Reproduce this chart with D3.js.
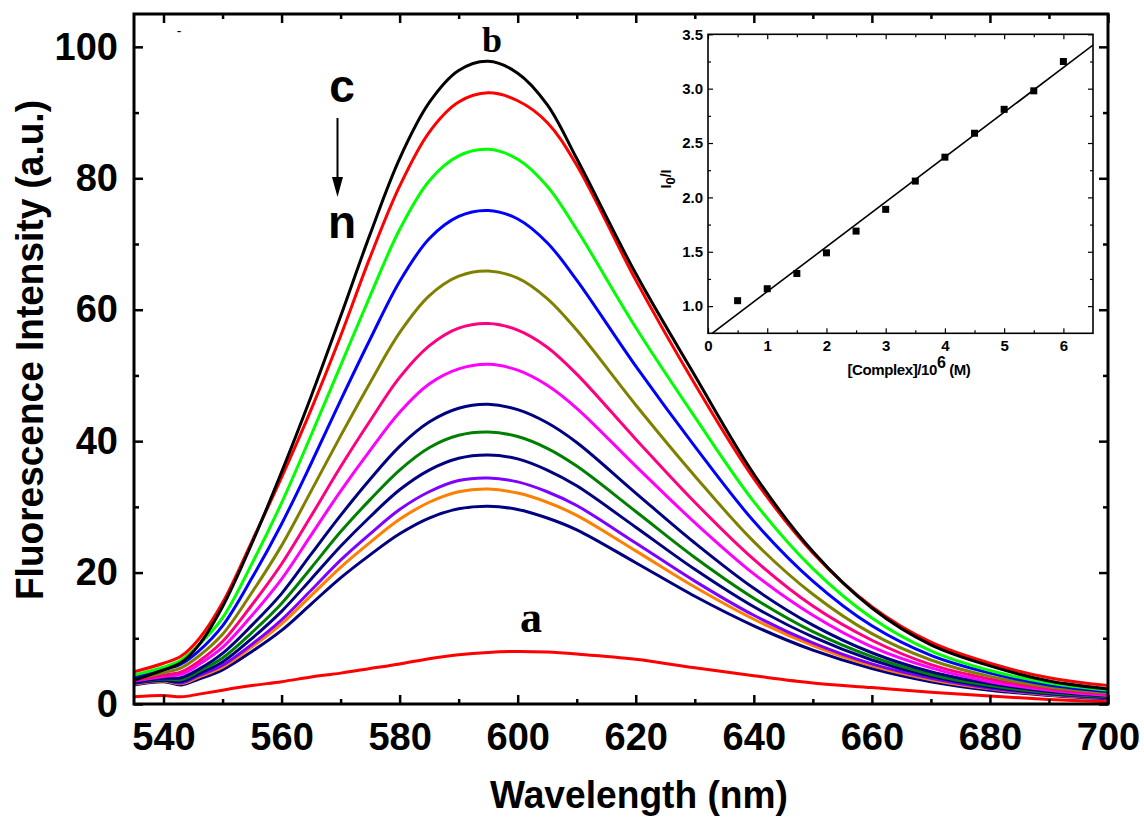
<!DOCTYPE html>
<html>
<head>
<meta charset="utf-8">
<script src="https://cdn.jsdelivr.net/npm/d3@7"></script>
<style>
  body { margin: 0; background: #fff; }
  svg { display: block; }
</style>
</head>
<body>
<svg id="chart" width="1144" height="819"></svg>
<script>
// ---- Emission spectra (fluorescence intensity, a.u.) ----
const wavelengths = [535,540,543,546,550,555,560,565,570,575,580,585,590,595,600,605,610,620,630,640,650,660,670,680,690,700];

const specA = [1.1,1.3,1.1,1.5,2.1,2.8,3.4,4.1,4.7,5.4,6.1,6.9,7.5,7.85,8.0,7.9,7.6,6.8,5.5,4.3,3.2,2.5,1.8,1.2,0.7,0.35];
const specB = [3.6,5.2,6.3,9.0,14.8,24.5,35.3,46.8,59.0,71.5,83.0,91.5,96.4,97.8,96.0,91.2,83.0,65.5,50.0,35.0,23.2,14.6,9.0,5.8,3.5,2.3];
const specC = [4.9,6.2,7.3,9.9,15.4,24.8,34.5,44.8,56.0,68.0,78.8,87.0,91.6,93.0,91.8,88.5,82.0,64.5,48.7,34.3,23.0,14.8,9.4,6.2,4.0,2.8];
const specD = [4.4,5.6,6.7,9.0,13.1,21.4,30.6,40.9,51.5,62.1,72.2,79.6,83.4,84.4,82.9,78.8,72.2,57.3,43.7,30.8,20.6,13.1,8.1,5.1,3.2,2.1];
const specE = [4.1,5.2,6.1,8.1,11.9,19.2,27.4,36.6,46.2,55.5,64.3,70.8,74.2,75.1,73.8,70.2,64.5,51.4,39.2,27.8,18.7,11.9,7.4,4.7,2.9,1.9];
const specF = [3.8,4.8,5.5,7.3,10.6,17.0,24.1,32.4,40.8,48.9,56.5,62.1,65.1,65.9,64.8,61.7,56.9,45.5,34.7,24.7,16.7,10.7,6.7,4.2,2.6,1.7];
const specG = [3.6,4.4,4.9,6.5,9.5,15.1,21.3,28.6,36.1,43.1,49.7,54.5,57.2,57.9,56.9,54.3,50.2,40.3,30.7,22.0,14.9,9.7,6.0,3.8,2.3,1.5];
const specH = [3.5,4.2,4.5,6.0,8.6,13.5,19.0,25.7,32.4,38.6,44.4,48.7,51.0,51.7,50.8,48.5,45.0,36.2,27.6,19.8,13.5,8.7,5.5,3.4,2.1,1.3];
const specI = [3.3,3.9,4.0,5.3,7.7,12.0,16.8,22.8,28.7,34.2,39.2,42.9,45.0,45.6,44.8,42.8,39.8,32.1,24.5,17.6,12.0,7.8,4.9,3.1,1.9,1.2];
const specJ = [3.3,3.8,3.7,5.0,7.0,10.9,15.3,20.7,26.2,31.1,35.6,39.0,40.9,41.4,40.7,38.9,36.2,29.3,22.3,16.1,11.0,7.2,4.5,2.8,1.7,1.1];
const specK = [3.2,3.6,3.4,4.6,6.4,10.0,14.1,19.0,24.0,28.5,32.6,35.6,37.4,37.9,37.3,35.6,33.2,26.9,20.5,14.8,10.2,6.7,4.2,2.6,1.6,1.0];
const specL = [3.1,3.6,3.2,4.3,5.9,9.1,12.8,17.3,21.9,25.9,29.6,32.3,34.0,34.4,33.8,32.3,30.2,24.5,18.7,13.5,9.3,6.1,3.9,2.4,1.5,0.95];
const specM = [3.0,3.5,3.1,4.1,5.6,8.7,12.2,16.5,20.8,24.6,28.1,30.7,32.3,32.7,32.1,30.7,28.7,23.3,17.8,12.9,8.9,5.8,3.7,2.3,1.4,0.9];
const specN = [2.9,3.4,2.9,3.8,5.2,8.0,11.2,15.2,19.2,22.7,25.9,28.3,29.7,30.1,29.6,28.3,26.5,21.5,16.4,11.9,8.2,5.4,3.4,2.1,1.3,0.8];

// drawing order: lowest quenched spectrum first, free spectrum b last
const seriesNames  = ["a","n","m","l","k","j","i","h","g","f","e","d","c","b"];
const seriesValues = [specA,specN,specM,specL,specK,specJ,specI,specH,specG,specF,specE,specD,specC,specB];
const seriesColors = ["#ff0000","#000080","#ff8000","#8000ff","#000080","#008000","#000080","#ff00ff","#ff0080","#808000","#0000ff","#00ff00","#ff0000","#000000"];

const xTicks = [540,560,580,600,620,640,660,680,700];
const xMinorTicks = [550,570,590,610,630,650,670,690];
const yTicks = [0,20,40,60,80,100];
const yMinorTicks = [10,30,50,70,90];

// ---- Stern–Volmer inset ----
const conc  = [0.5,1,1.5,2,2.5,3,3.5,4,4.5,5,5.5,6];
const ratio = [1.05,1.16,1.30,1.49,1.69,1.89,2.15,2.37,2.59,2.81,2.98,3.25];
const insetXTicks = [0,1,2,3,4,5,6];
const insetXMinor = [0.5,1.5,2.5,3.5,4.5,5.5];
const insetYTicks = [1.0,1.5,2.0,2.5,3.0,3.5];
const insetYMinor = [1.25,1.75,2.25,2.75,3.25];

const svg = d3.select("#chart");
const SANS = "'Liberation Sans', Arial, sans-serif";
const SERIF = "'Liberation Serif', 'Times New Roman', serif";

// ---- main plot ----
const P = { left: 134, right: 1108, top: 14, bottom: 704 };
const x = d3.scaleLinear().domain([535, 700]).range([P.left, P.right]);
const y = d3.scaleLinear().domain([0, 105]).range([P.bottom, P.top]);

svg.append("clipPath").attr("id", "plotClip")
  .append("rect").attr("x", P.left).attr("y", P.top)
  .attr("width", P.right - P.left).attr("height", P.bottom - P.top);

const line = d3.line()
  .x((d, i) => x(wavelengths[i]))
  .y(d => y(d))
  .curve(d3.curveCatmullRom.alpha(0.5));

const curves = svg.append("g").attr("clip-path", "url(#plotClip)");
seriesValues.forEach((vals, k) => {
  curves.append("path")
    .attr("class", "spectrum spectrum-" + seriesNames[k])
    .attr("d", line(vals))
    .attr("fill", "none")
    .attr("stroke", seriesColors[k])
    .attr("stroke-width", 3)
    .attr("stroke-linejoin", "round");
});

function styleAxis(g, fontSize) {
  g.select(".domain").remove();
  g.selectAll(".tick line").attr("stroke", "#000").attr("stroke-width", 2.5);
  g.selectAll(".tick text")
    .attr("fill", "#000")
    .style("font-family", SANS)
    .style("font-weight", "bold")
    .style("font-size", fontSize + "px");
}

// bottom
svg.append("g").attr("transform", `translate(0,${P.bottom})`)
  .call(d3.axisBottom(x).tickValues(xTicks).tickSize(-9).tickPadding(19).tickFormat(d3.format("d")))
  .call(g => styleAxis(g, 38));
svg.append("g").attr("transform", `translate(0,${P.bottom})`)
  .call(d3.axisBottom(x).tickValues(xMinorTicks).tickSize(-5).tickFormat(""))
  .call(g => styleAxis(g, 38));
// top
svg.append("g").attr("transform", `translate(0,${P.top})`)
  .call(d3.axisTop(x).tickValues(xTicks).tickSize(-9).tickFormat(""))
  .call(g => styleAxis(g, 38));
svg.append("g").attr("transform", `translate(0,${P.top})`)
  .call(d3.axisTop(x).tickValues(xMinorTicks).tickSize(-5).tickFormat(""))
  .call(g => styleAxis(g, 38));
// left
svg.append("g").attr("transform", `translate(${P.left},0)`)
  .call(d3.axisLeft(y).tickValues(yTicks).tickSize(-9).tickPadding(16).tickFormat(d3.format("d")))
  .call(g => styleAxis(g, 38));
svg.append("g").attr("transform", `translate(${P.left},0)`)
  .call(d3.axisLeft(y).tickValues(yMinorTicks).tickSize(-5).tickFormat(""))
  .call(g => styleAxis(g, 38));
// right
svg.append("g").attr("transform", `translate(${P.right},0)`)
  .call(d3.axisRight(y).tickValues(yTicks).tickSize(-9).tickFormat(""))
  .call(g => styleAxis(g, 38));
svg.append("g").attr("transform", `translate(${P.right},0)`)
  .call(d3.axisRight(y).tickValues(yMinorTicks).tickSize(-5).tickFormat(""))
  .call(g => styleAxis(g, 38));

svg.append("rect")
  .attr("x", P.left).attr("y", P.top)
  .attr("width", P.right - P.left).attr("height", P.bottom - P.top)
  .attr("fill", "none").attr("stroke", "#000").attr("stroke-width", 3);

// axis titles
svg.append("text")
  .attr("x", 639).attr("y", 808)
  .attr("text-anchor", "middle")
  .attr("textLength", 298).attr("lengthAdjust", "spacingAndGlyphs")
  .style("font-family", SANS).style("font-weight", "bold").style("font-size", "38px")
  .text("Wavelength (nm)");

svg.append("text")
  .attr("transform", "translate(43,350) rotate(-90)")
  .attr("text-anchor", "middle")
  .attr("textLength", 500).attr("lengthAdjust", "spacingAndGlyphs")
  .style("font-family", SANS).style("font-weight", "bold").style("font-size", "38px")
  .text("Fluorescence Intensity (a.u.)");

// curve annotations
svg.append("text").attr("x", 492).attr("y", 52).attr("text-anchor", "middle")
  .style("font-family", SERIF).style("font-weight", "bold").style("font-size", "36px")
  .text("b");
svg.append("text").attr("x", 531).attr("y", 632).attr("text-anchor", "middle")
  .style("font-family", SERIF).style("font-weight", "bold").style("font-size", "44px")
  .text("a");
svg.append("text").attr("x", 342).attr("y", 102).attr("text-anchor", "middle")
  .style("font-family", SANS).style("font-weight", "bold").style("font-size", "46px")
  .text("c");
svg.append("text").attr("x", 342).attr("y", 238).attr("text-anchor", "middle")
  .style("font-family", SANS).style("font-weight", "bold").style("font-size", "46px")
  .text("n");
svg.append("line")
  .attr("x1", 337.5).attr("y1", 118).attr("x2", 337.5).attr("y2", 180)
  .attr("stroke", "#000").attr("stroke-width", 2);
svg.append("path")
  .attr("d", "M332,177 L343,177 L337.5,197 Z")
  .attr("fill", "#000");
svg.append("text").attr("x", 179).attr("y", 36).attr("text-anchor", "middle")
  .style("font-family", SANS).style("font-size", "14px")
  .text("-");

// ---- inset ----
const I = { left: 708, right: 1093, top: 34.3, bottom: 333.3 };
const ix = d3.scaleLinear().domain([0, 6.5]).range([I.left, I.right]);
const iy = d3.scaleLinear().domain([0.75, 3.5]).range([I.bottom, I.top]);

svg.append("rect")
  .attr("x", I.left).attr("y", I.top)
  .attr("width", I.right - I.left).attr("height", I.bottom - I.top)
  .attr("fill", "#fff");

svg.append("clipPath").attr("id", "insetClip")
  .append("rect").attr("x", I.left).attr("y", I.top)
  .attr("width", I.right - I.left).attr("height", I.bottom - I.top);

// least-squares fit of I0/I against concentration
const mx = d3.mean(conc), my = d3.mean(ratio);
const slope = d3.sum(conc, (c, i) => (c - mx) * (ratio[i] - my)) / d3.sum(conc, c => (c - mx) * (c - mx));
const intercept = my - slope * mx;
const fitX = [0, 6.5];
svg.append("path")
  .attr("clip-path", "url(#insetClip)")
  .attr("d", d3.line().x(d => ix(d)).y(d => iy(intercept + slope * d))(fitX))
  .attr("fill", "none").attr("stroke", "#000").attr("stroke-width", 1.6);

svg.append("g").selectAll("rect")
  .data(conc)
  .join("rect")
  .attr("x", (d) => ix(d) - 3.5)
  .attr("y", (d, i) => iy(ratio[i]) - 3.5)
  .attr("width", 7).attr("height", 7)
  .attr("fill", "#000");

function styleInsetAxis(g) {
  g.select(".domain").remove();
  g.selectAll(".tick line").attr("stroke", "#000").attr("stroke-width", 1.2);
  g.selectAll(".tick text")
    .attr("fill", "#000")
    .style("font-family", SANS)
    .style("font-weight", "bold")
    .style("font-size", "15px");
}
svg.append("g").attr("transform", `translate(0,${I.bottom})`)
  .call(d3.axisBottom(ix).tickValues(insetXTicks).tickSize(-5).tickPadding(7).tickFormat(d3.format("d")))
  .call(styleInsetAxis);
svg.append("g").attr("transform", `translate(0,${I.bottom})`)
  .call(d3.axisBottom(ix).tickValues(insetXMinor).tickSize(-3).tickFormat(""))
  .call(styleInsetAxis);
svg.append("g").attr("transform", `translate(0,${I.top})`)
  .call(d3.axisTop(ix).tickValues(insetXTicks).tickSize(-5).tickFormat(""))
  .call(styleInsetAxis);
svg.append("g").attr("transform", `translate(0,${I.top})`)
  .call(d3.axisTop(ix).tickValues(insetXMinor).tickSize(-3).tickFormat(""))
  .call(styleInsetAxis);
svg.append("g").attr("transform", `translate(${I.left},0)`)
  .call(d3.axisLeft(iy).tickValues(insetYTicks).tickSize(-5).tickPadding(5).tickFormat(d3.format(".1f")))
  .call(styleInsetAxis);
svg.append("g").attr("transform", `translate(${I.left},0)`)
  .call(d3.axisLeft(iy).tickValues(insetYMinor).tickSize(-3).tickFormat(""))
  .call(styleInsetAxis);
svg.append("g").attr("transform", `translate(${I.right},0)`)
  .call(d3.axisRight(iy).tickValues(insetYTicks).tickSize(-5).tickFormat(""))
  .call(styleInsetAxis);
svg.append("g").attr("transform", `translate(${I.right},0)`)
  .call(d3.axisRight(iy).tickValues(insetYMinor).tickSize(-3).tickFormat(""))
  .call(styleInsetAxis);

svg.append("rect")
  .attr("x", I.left).attr("y", I.top)
  .attr("width", I.right - I.left).attr("height", I.bottom - I.top)
  .attr("fill", "none").attr("stroke", "#000").attr("stroke-width", 1.6);

// inset titles
const ixTitle = svg.append("text")
  .attr("x", 909).attr("y", 375).attr("text-anchor", "middle")
  .style("font-family", SANS).style("font-weight", "bold").style("font-size", "15px")
  .style("letter-spacing", "-0.4px");
ixTitle.append("tspan").text("[Complex]/10");
ixTitle.append("tspan").attr("dy", -7).style("font-size", "16px").text("6");
ixTitle.append("tspan").attr("dy", 7).text(" (M)");

const iyTitle = svg.append("text")
  .attr("transform", "translate(671,179) rotate(-90)")
  .attr("text-anchor", "middle")
  .style("font-family", SANS).style("font-weight", "bold").style("font-size", "14px");
iyTitle.append("tspan").text("I");
iyTitle.append("tspan").attr("dy", 4).style("font-size", "13px").text("0");
iyTitle.append("tspan").attr("dy", -4).text("/I");
</script>
</body>
</html>
